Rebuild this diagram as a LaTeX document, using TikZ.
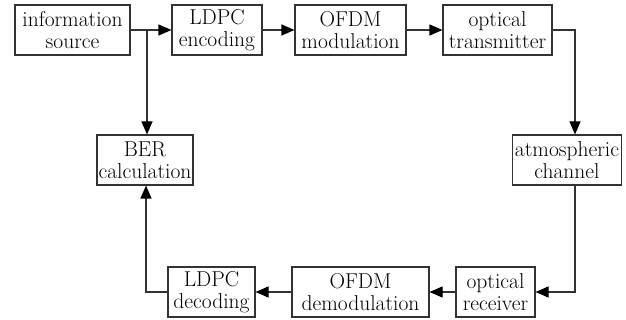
\documentclass[tikz,border=0pt]{standalone}
\usetikzlibrary{arrows.meta}
\begin{document}
\begin{tikzpicture}[x=1pt,y=1pt,
  blk/.style={draw=black!80, line width=1.1pt, minimum height=50pt, inner sep=0pt, align=center, font=\fontsize{21.5}{21.5}\selectfont},
  arr/.style={draw=black!80, line width=1.1pt, -{Triangle[length=13pt,width=11pt,color=black]}},
  ln/.style={draw=black!80, line width=1.1pt}]
\useasboundingbox (0,0) rectangle (626,-320);
\node[blk, minimum width=115pt] (info) at (72.5,-30) {information\\source};
\node[blk, minimum width=90pt] (ldpce) at (217,-30) {LDPC\\encoding};
\node[blk, minimum width=111pt] (ofdmm) at (350.5,-30) {OFDM\\modulation};
\node[blk, minimum width=109pt] (optt) at (497.5,-30) {optical\\transmitter};
\node[blk, minimum width=96pt] (ber) at (145,-160) {BER\\calculation};
\node[blk, minimum width=109pt] (atm) at (567,-160) {atmospheric\\channel};
\node[blk, minimum width=87pt] (ldpcd) at (211.5,-292) {LDPC\\decoding};
\node[blk, minimum width=137pt] (ofdmd) at (360.5,-292) {OFDM\\demodulation};
\node[blk, minimum width=79pt] (optr) at (495.5,-292) {optical\\receiver};
\coordinate (br) at (147,-30);
\coordinate (rt) at (575,-30);
\coordinate (rb) at (575,-292);
\coordinate (lb) at (146,-292);
\draw[arr] (info) -- (ldpce);
\draw[arr] (ldpce) -- (ofdmm);
\draw[arr] (ofdmm) -- (optt);
\draw[arr] (br) -- (br |- ber.north);
\draw[arr] (optt.east) -- (rt) -- (rt |- atm.north);
\draw[arr] (rb |- atm.south) -- (rb) -- (optr.east);
\draw[arr] (optr) -- (ofdmd);
\draw[arr] (ofdmd) -- (ldpcd);
\draw[arr] (ldpcd.west) -- (lb) -- (lb |- ber.south);
\end{tikzpicture}
\end{document}
